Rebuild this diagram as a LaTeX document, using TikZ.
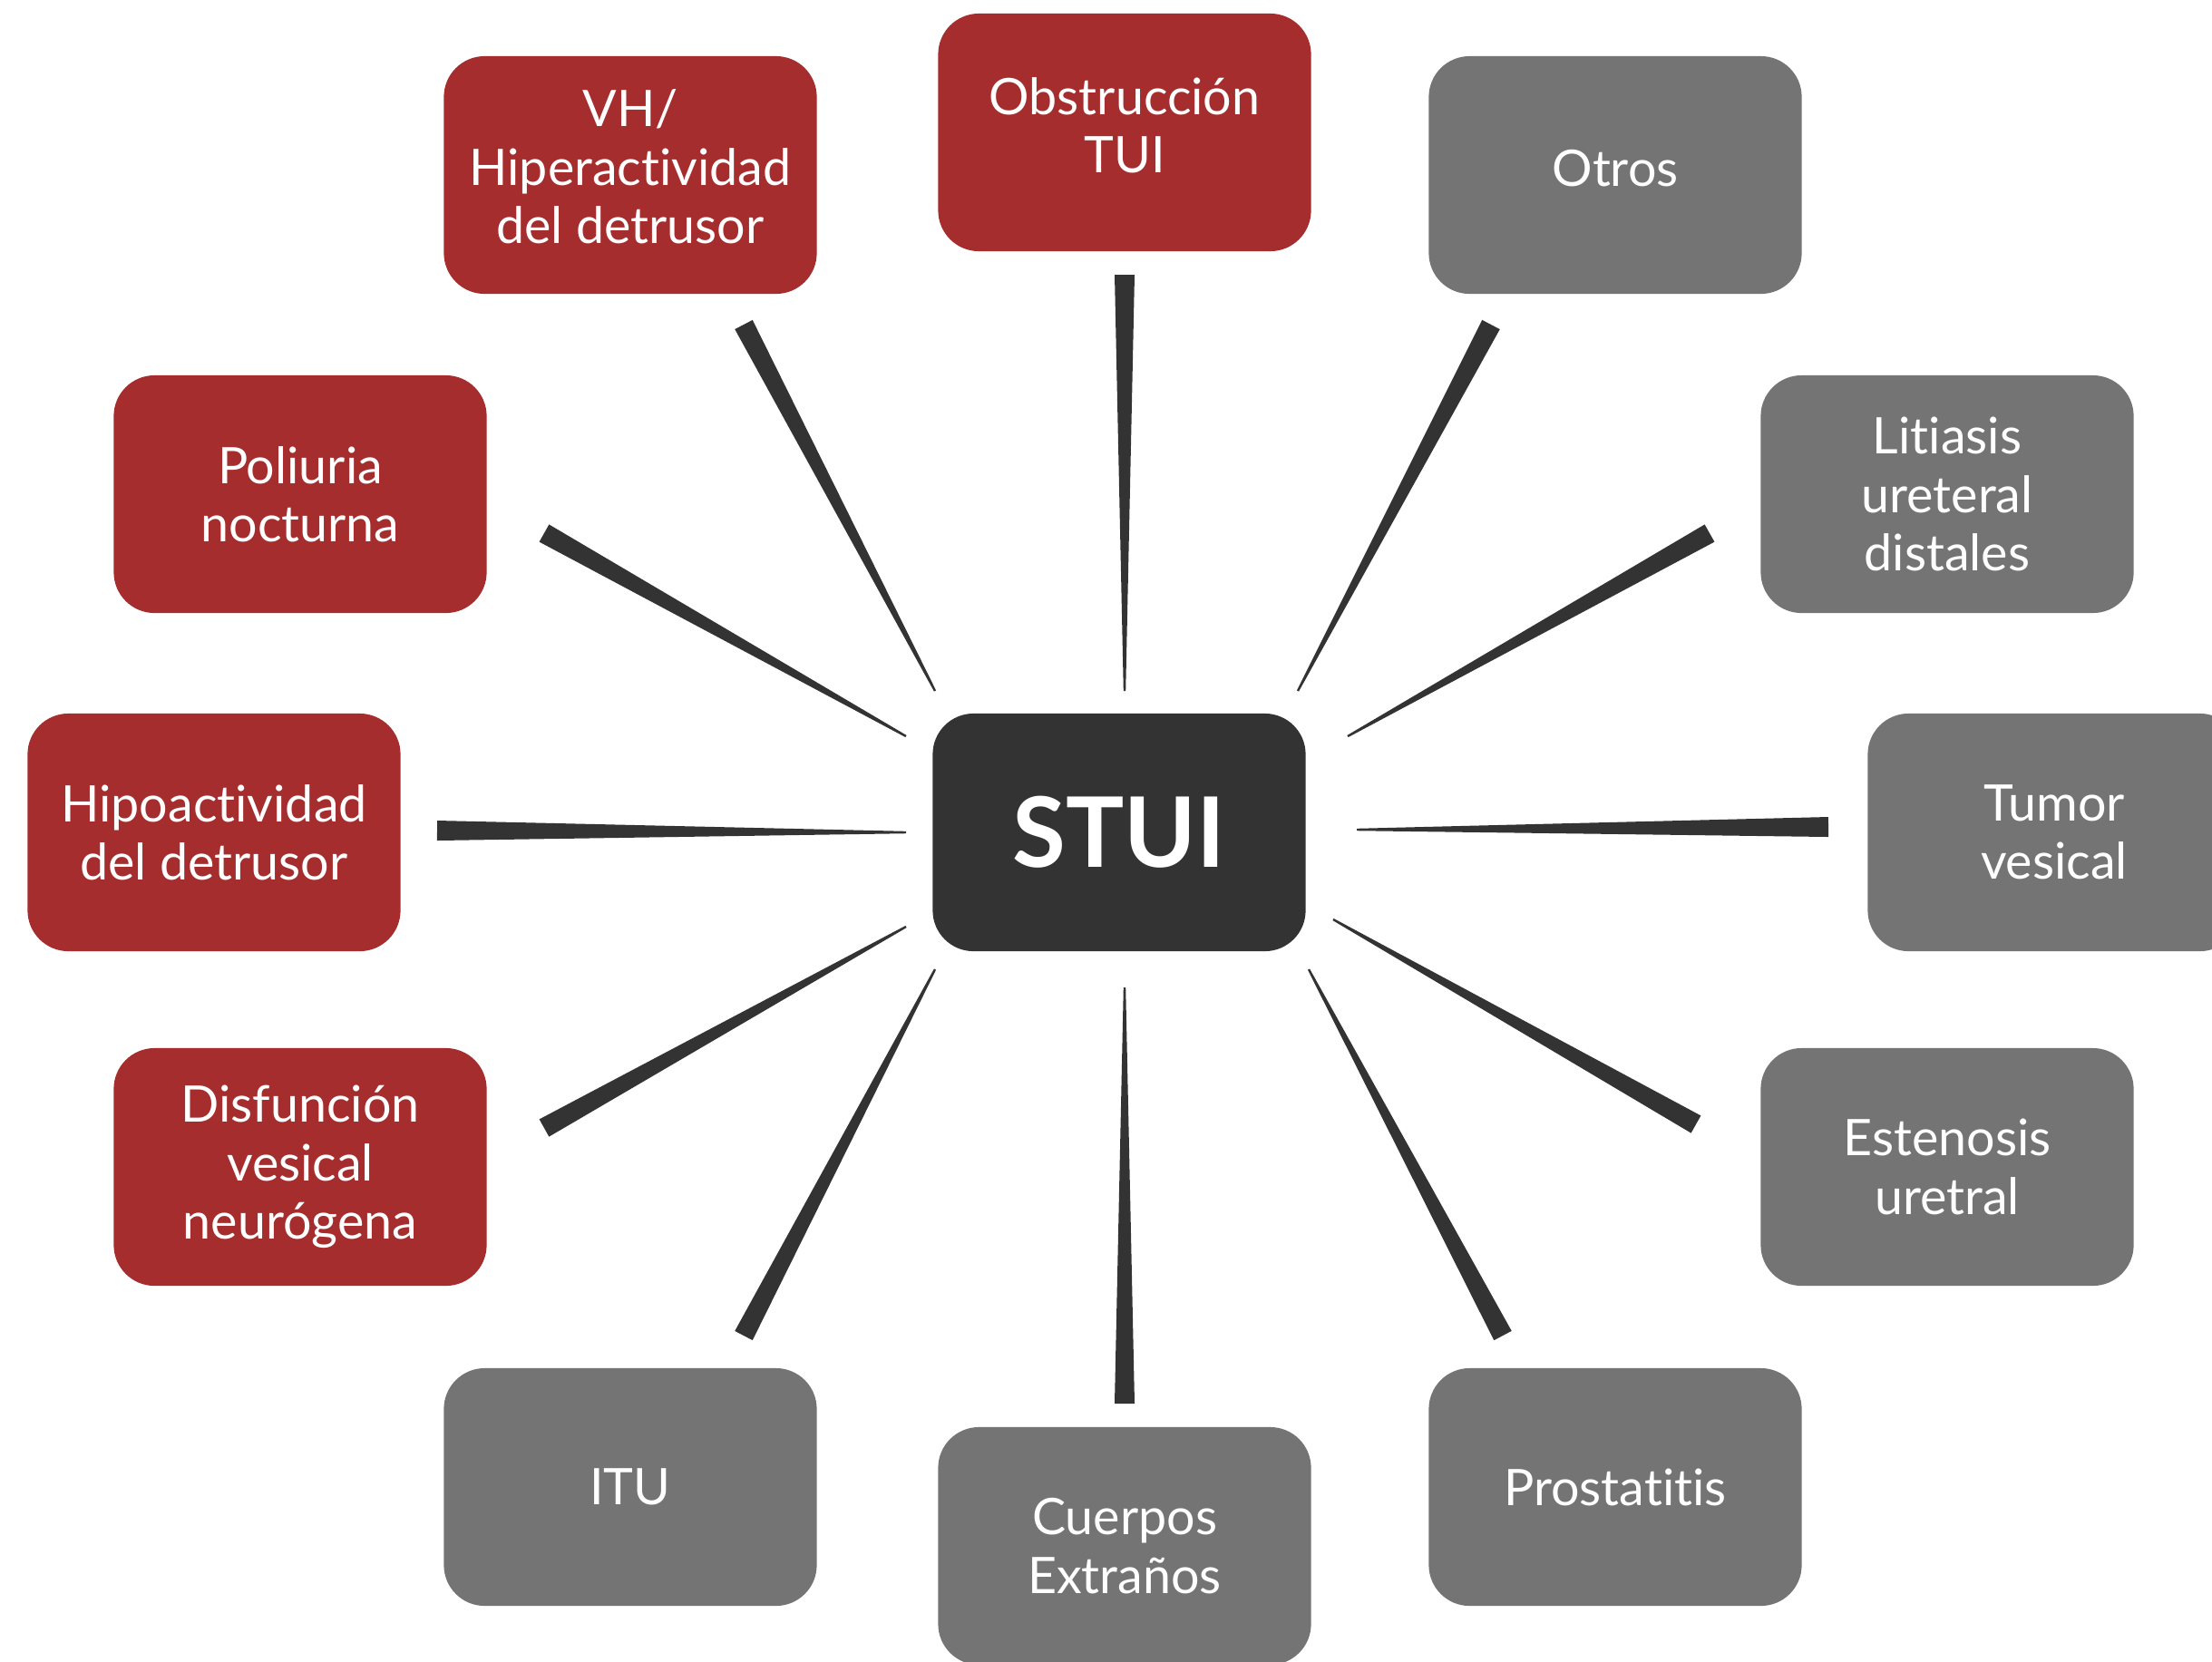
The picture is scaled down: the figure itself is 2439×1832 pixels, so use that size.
\documentclass[tikz,border=0pt]{standalone}
\usepackage{fontspec}
\setmainfont{Lato}[Ligatures={NoCommon}]
\usetikzlibrary{calc}
\definecolor{boxred}{RGB}{165,45,45}
\definecolor{boxgrey}{RGB}{116,116,116}
\definecolor{boxdark}{RGB}{51,51,51}
\newcommand\spokefill[2]{\fill[spoke] ($(#1)!0.012cm!90:(#2)$) -- ($(#1)!0.012cm!-90:(#2)$) -- ($(#2)!0.11cm!90:(#1)$) -- ($(#2)!0.11cm!-90:(#1)$) -- cycle;}
\newcommand\lowstrut[1]{\rule[-#1]{0pt}{#1}}
\begin{document}
\begin{tikzpicture}[x=0.01cm,y=-0.01cm,
  box/.style={rounded corners=0.45cm, minimum width=4.11cm, minimum height=2.62cm, align=center, text=white, font=\fontsize{15.8}{18.3}\selectfont, inner sep=0pt},
  redbox/.style={box, fill=boxred},
  greybox/.style={box, fill=boxgrey},
  centerbox/.style={box, fill=boxdark, font=\fontsize{30.5}{36}\selectfont\bfseries},
  spoke/.style={fill=boxdark}]
\useasboundingbox (0,0) rectangle (2439,1832);
\clip (0,0) rectangle (2439,1832);

\node[centerbox] (stui) at (1234,918) {STUI};
\node[redbox] (vh) at (695,193) {VH/\\Hiperactividad\\del detrusor\lowstrut{5.2pt}};
\node[redbox] (obs) at (1240,146) {Obstrucción\\TUI\lowstrut{4.4pt}};
\node[greybox] (otros) at (1781,193) {Otros\lowstrut{4.4pt}};
\node[redbox] (pol) at (331,545) {Poliuria\\nocturna};
\node[greybox] (lit) at (2147,545) {Litiasis\\ureteral\\distales};
\node[redbox] (hipo) at (236,918) {Hipoactividad\\del detrusor};
\node[greybox] (tum) at (2265,918) {Tumor\\vesical};
\node[redbox] (dis) at (331,1287) {Disfunción\\vesical\\neurógena};
\node[greybox] (est) at (2147,1287) {Estenosis\\uretral};
\node[greybox] (itu) at (695,1640) {ITU};
\node[greybox] (cue) at (1240,1705) {Cuerpos\\Extraños};
\node[greybox] (pro) at (1781,1640) {Prostatitis};

% spoke end points (thin end near STUI, thick end near outer box)
\coordinate (a1) at (1031,762);  \coordinate (b1) at (820,358);
\coordinate (a2) at (1240,762);  \coordinate (b2) at (1240,303);
\coordinate (a3) at (1431,762);  \coordinate (b3) at (1644,358);
\coordinate (a4) at (999,812);   \coordinate (b4) at (600,588);
\coordinate (a5) at (1486,812);  \coordinate (b5) at (1885,588);
\coordinate (a6) at (999,918);   \coordinate (b6) at (482,916);
\coordinate (a7) at (1496,915);  \coordinate (b7) at (2016,912);
\coordinate (a8) at (999,1022);  \coordinate (b8) at (600,1244);
\coordinate (a9) at (1470,1014); \coordinate (b9) at (1870,1240);
\coordinate (a10) at (1031,1069); \coordinate (b10) at (820,1473);
\coordinate (a11) at (1240,1089); \coordinate (b11) at (1240,1548);
\coordinate (a12) at (1443,1069); \coordinate (b12) at (1657,1473);

\spokefill{a1}{b1}
\spokefill{a2}{b2}
\spokefill{a3}{b3}
\spokefill{a4}{b4}
\spokefill{a5}{b5}
\spokefill{a6}{b6}
\spokefill{a7}{b7}
\spokefill{a8}{b8}
\spokefill{a9}{b9}
\spokefill{a10}{b10}
\spokefill{a11}{b11}
\spokefill{a12}{b12}
\end{tikzpicture}
\end{document}
